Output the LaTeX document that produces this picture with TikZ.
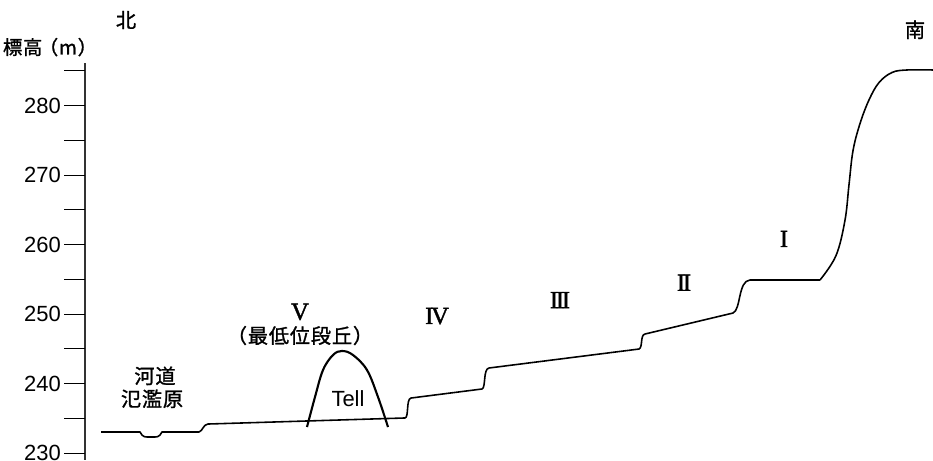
\documentclass[tikz,border=0pt]{standalone}
\usepackage{fontspec}
\setmainfont{Liberation Sans}
\newfontfamily\jp[FakeBold=1.2, LetterSpace=4]{Noto Sans CJK JP}
\newfontfamily\rom[FakeBold=1.6, LetterSpace=-9]{Liberation Serif}

\begin{document}
\begin{tikzpicture}[x=0.2mm, y=1.39mm, line join=round]
  \useasboundingbox (0,-1.01) rectangle (933,65.18);

  % 標高軸 (0 = 230 m)
  \coordinate (axtop) at (85,56.1);
  \coordinate (axbot) at (85,-1.01);
  \draw[line width=0.6pt, black!80] (axtop)--(axbot);
  \foreach \h in {0,5,...,55}
    \draw[line width=0.5pt] (64,\h)--(85,\h);
  \foreach \h in {0,10,...,50} {
    \pgfmathtruncatemacro\lab{230+\h}
    \node[anchor=east, inner sep=1pt, font=\fontsize{12.5}{14}\selectfont] (tick\lab) at (63,\h) {\lab};
  }
  \node[font=\jp\fontsize{11}{13}\selectfont] (ylab) at (50,58.4) {標高\hspace{-2pt}（m）};
  \node[font=\jp\fontsize{11.5}{13}\selectfont] (north) at (126,62.3) {北};
  \node[font=\jp\fontsize{11.5}{13}\selectfont] (south) at (915,60.9) {南};

  % 地形断面
  \draw[line width=0.9pt]
    (101,3.02) -- (140,3.02)
      .. controls (143,2.2) and (145,2.3) .. (151,2.3)
      .. controls (157,2.3) and (159,2.2) .. (162,3.02)
    -- (199,3.02) .. controls (203,3.2) and (203,4.1) .. (208,4.17)
    -- (405,5.04) .. controls (409,5.1) and (406,7.8) .. (411,7.91)
    -- (482,9.21) .. controls (486,9.4) and (483,12.1) .. (489,12.23)
    -- (639,14.96) .. controls (643,15.2) and (640,17.0) .. (645,17.12)
    -- (733,20.14) .. controls (741,20.6) and (738,24.8) .. (750,24.89)
    -- (820,24.89);
  \draw[line width=0.9pt] plot[smooth, tension=0.6] coordinates
    {(820,24.89) (836,28.4) (845,33.5) (849,38.6) (853,43.5) (860,47.4)
     (869,50.8) (879,53.3) (892,54.75) (907,55.11) (933,55.11)};

  % Tell
  \draw[line width=1.2pt] plot[smooth, tension=0.6] coordinates
    {(307,3.74) (315,8.06) (323,11.94) (333,14.10) (342,14.68)
     (353,14.10) (367,11.94) (378,8.06) (388,3.74)};
  \node[font=\fontsize{12.5}{14}\selectfont] (tell) at (348,7.8) {Tell};

  % 段丘面
  \node[font=\rom\fontsize{14}{16}\selectfont] (t5) at (300,20.3) {V};
  \node[font=\jp\fontsize{11.5}{13}\selectfont] (t5lab) at (300,16.9) {（最低位段丘）};
  \node[font=\rom\fontsize{14}{16}\selectfont] (t4) at (437,19.7) {IV};
  \node[font=\rom\fontsize{14}{16}\selectfont] (t3) at (560,22.0) {III};
  \node[font=\rom\fontsize{14}{16}\selectfont] (t2) at (684,24.5) {II};
  \node[font=\rom\fontsize{14}{16}\selectfont] (t1) at (784,30.8) {I};

  % 河道・氾濫原
  \node[font=\jp\fontsize{11.5}{13}\selectfont] (river) at (155,11.1) {河道};
  \node[font=\jp\fontsize{11.5}{13}\selectfont] (flood) at (152,7.8) {氾濫原};
\end{tikzpicture}
\end{document}
